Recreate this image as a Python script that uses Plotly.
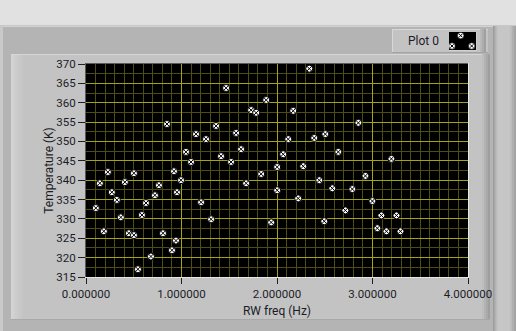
import plotly.graph_objects as go

# ---------------- data ----------------
freq_hz = [0.103, 0.145, 0.187, 0.229, 0.271, 0.323, 0.365, 0.407, 0.449, 0.502,
           0.502, 0.544, 0.586, 0.628, 0.680, 0.722, 0.764, 0.806, 0.848, 0.900,
           0.921, 0.942, 0.953, 0.995, 1.047, 1.100, 1.152, 1.205, 1.257, 1.310,
           1.362, 1.414, 1.467, 1.519, 1.572, 1.624, 1.677, 1.729, 1.782, 1.834,
           1.887, 1.939, 2.002, 2.002, 2.065, 2.118, 2.170, 2.222, 2.275, 2.338,
           2.390, 2.443, 2.495, 2.506, 2.579, 2.642, 2.716, 2.789, 2.852, 2.926,
           2.999, 3.051, 3.093, 3.146, 3.198, 3.251, 3.293]
temp_k = [332.8, 339.2, 326.8, 342.1, 336.9, 334.9, 330.4, 339.5, 326.3, 341.8,
          325.8, 317.0, 331.0, 334.1, 320.3, 336.1, 338.7, 326.3, 354.5, 321.9,
          342.3, 324.4, 336.9, 340.0, 347.3, 344.7, 351.9, 334.3, 350.6, 329.9,
          354.0, 346.2, 363.8, 344.7, 352.2, 348.0, 339.2, 358.1, 357.4, 341.6,
          360.7, 329.1, 343.4, 337.4, 346.7, 350.6, 357.9, 335.3, 343.6, 368.8,
          350.9, 340.0, 329.4, 351.9, 337.9, 347.3, 332.2, 337.7, 354.8, 341.1,
          334.6, 327.6, 330.9, 326.8, 345.5, 330.9, 326.8]

x_tick_vals = [0, 1, 2, 3, 4]
x_tick_text = ["0.000000", "1.000000", "2.000000", "3.000000", "4.000000"]
y_tick_vals = [315, 320, 325, 330, 335, 340, 345, 350, 355, 360, 365, 370]
series_name = "Plot 0"
x_title = "RW freq (Hz)"
y_title = "Temperature (K)"

# ---------------- layout geometry ----------------
W, H = 516, 331
ML, MR, MT, MB = 86, 48, 64, 54
PW, PH = W - ML - MR, H - MT - MB

FONT = "Roboto, 'Segoe UI', 'Noto Sans', sans-serif"
TXT = "#1c1c28"
MAJOR = "#a4a416"
MINOR = "#4e4e12"


def fx(x):
    return (x - ML) / PW


def fy(y):
    return (H - MB - y) / PH


def rect(x0, y0, x1, y1, color, layer="below"):
    return dict(type="rect", xref="paper", yref="paper",
                x0=fx(x0), x1=fx(x1), y0=fy(y1), y1=fy(y0),
                fillcolor=color, line=dict(width=0), layer=layer)


def hline(x0, x1, y, color, layer="below", w=1):
    return dict(type="line", xref="paper", yref="paper",
                x0=fx(x0), x1=fx(x1), y0=fy(y), y1=fy(y),
                line=dict(color=color, width=w), layer=layer)


def vline(x, y0, y1, color, layer="below", w=1):
    return dict(type="line", xref="paper", yref="paper",
                x0=fx(x), x1=fx(x), y0=fy(y0), y1=fy(y1),
                line=dict(color=color, width=w), layer=layer)


shapes = []
# top light strip
shapes.append(rect(0, 0, W, 25, "#e1e1e1"))
shapes.append(hline(0, W, 25.5, "#c8c8c8"))
shapes.append(hline(0, W, 26.5, "#d2d2d2"))
# outer left bevel
shapes.append(rect(0, 26, 3, H, "#c9c9c9"))
# right outer strip
shapes.append(rect(493, 26, W, H, "#c6c6c6"))
for i, c in enumerate(["#9c9c9c", "#a8a8a8", "#b2b2b2", "#bbbbbb", "#c1c1c1"]):
    shapes.append(rect(493 + i, 26, 494 + i, H, c))
for i, c in enumerate(["#bdbdbd", "#b0b0b0", "#a4a4a4"]):
    shapes.append(rect(510 + 2 * i, 26, 512 + 2 * i, H, c))
# inner panel
shapes.append(rect(11, 54, 490, 320, "#c3c3c3"))
for i, c in enumerate(["#d4d4d4", "#d0d0d0", "#cdcdcd", "#cacaca", "#c8c8c8", "#c6c6c6"]):
    shapes.append(rect(11 + 2 * i, 54, 13 + 2 * i, 320, c))
shapes.append(hline(11, 490, 54.5, "#d6d6d6"))
for i, c in enumerate(["#bdbdbd", "#b3b3b3", "#a9a9a9", "#9f9f9f"]):
    shapes.append(rect(482 + 2 * i, 54, 484 + 2 * i, 320, c))
shapes.append(hline(11, 490, 319.5, "#a8a8a8"))
# black plot area backing
shapes.append(rect(ML, MT, W - MR, H - MB, "#000000"))
# legend box
shapes.append(rect(392, 29, 488, 53, "#c3c3c3"))
shapes.append(hline(392, 488, 29.5, "#d8d8d8"))
shapes.append(vline(392.5, 29, 53, "#d8d8d8"))
for i, c in enumerate(["#b8b8b8", "#acacac", "#a0a0a0"]):
    shapes.append(rect(480 + 2 * i, 29, 482 + 2 * i, 53, c))
shapes.append(hline(392, 488, 52.5, "#a4a4a4"))
shapes.append(rect(449, 32, 477, 51, "#000000"))
shapes.append(hline(449, 477, 50.5, "#d0d0d0"))
shapes.append(vline(476.5, 32, 51, "#d0d0d0"))
# legend swatch icons (circle with x)
for cx, cy in [(460.7, 35.6), (452.0, 46.0), (471.7, 46.0)]:
    r = 3.2
    shapes.append(dict(type="circle", xref="paper", yref="paper",
                       x0=fx(cx - r), x1=fx(cx + r), y0=fy(cy + r), y1=fy(cy - r),
                       fillcolor="#ffffff", line=dict(color="#000000", width=0.6),
                       layer="above"))
    d = 1.7
    shapes.append(dict(type="line", xref="paper", yref="paper",
                       x0=fx(cx - d), x1=fx(cx + d), y0=fy(cy - d), y1=fy(cy + d),
                       line=dict(color="#000000", width=1), layer="above"))
    shapes.append(dict(type="line", xref="paper", yref="paper",
                       x0=fx(cx - d), x1=fx(cx + d), y0=fy(cy + d), y1=fy(cy - d),
                       line=dict(color="#000000", width=1), layer="above"))
# re-cover swatch edges so icons look clipped
shapes.append(rect(444, 31, 449, 52, "#c3c3c3", layer="above"))
shapes.append(rect(449, 29, 477, 32, "#c3c3c3", layer="above"))
shapes.append(hline(449, 477, 29.5, "#d8d8d8", layer="above"))
# plot frame (inset look)
shapes.append(hline(ML - 1, W - MR + 1, MT - 0.5, "#5a5a5a", layer="above"))
shapes.append(vline(ML - 0.5, MT - 1, H - MB + 1, "#5a5a5a", layer="above"))
shapes.append(hline(ML - 1, W - MR + 1, H - MB + 0.5, "#e8e8e8", layer="above"))
shapes.append(vline(W - MR + 0.5, MT - 1, H - MB + 1, "#e8e8e8", layer="above"))

fig = go.Figure()
fig.add_trace(go.Scatter(
    x=freq_hz, y=temp_k, mode="markers", name=series_name,
    marker=dict(symbol="circle-x", size=7, color="#ffffff",
                line=dict(color="#000000", width=1)),
    cliponaxis=False, showlegend=False,
))

fig.add_annotation(text=series_name, xref="paper", yref="paper",
                   x=fx(423), y=fy(41), xanchor="center", yanchor="middle",
                   showarrow=False, font=dict(family=FONT, size=12, color=TXT))

fig.update_layout(
    width=W, height=H,
    margin=dict(l=ML, r=MR, t=MT, b=MB, pad=0),
    paper_bgcolor="#b4b4b4", plot_bgcolor="#000000",
    font=dict(family=FONT, size=11, color=TXT),
    shapes=shapes,
    showlegend=False,
)
fig.update_xaxes(
    range=[0, 4], tickmode="array", tickvals=x_tick_vals, ticktext=x_tick_text,
    ticks="outside", ticklen=6, tickcolor="#202020", tickwidth=1,
    tickfont=dict(family=FONT, size=11.5, color=TXT),
    showgrid=True, gridcolor=MAJOR, gridwidth=1, zeroline=False,
    minor=dict(dtick=0.1, tick0=0, showgrid=True, gridcolor=MINOR, gridwidth=1, ticks=""),
    title=dict(text=x_title, standoff=6, font=dict(family=FONT, size=12, color=TXT)),
    showline=False, fixedrange=True,
)
fig.update_yaxes(
    range=[315, 370], tickmode="array", tickvals=y_tick_vals,
    ticks="outside", ticklen=7, tickcolor="#202020", tickwidth=1,
    tickfont=dict(family=FONT, size=11.5, color=TXT),
    showgrid=True, gridcolor=MAJOR, gridwidth=1, zeroline=False,
    minor=dict(dtick=2.5, tick0=315, showgrid=True, gridcolor=MINOR, gridwidth=1, ticks=""),
    title=dict(text=y_title, standoff=0, font=dict(family=FONT, size=12, color=TXT)),
    showline=False, fixedrange=True,
)

fig.write_html("out.html")
